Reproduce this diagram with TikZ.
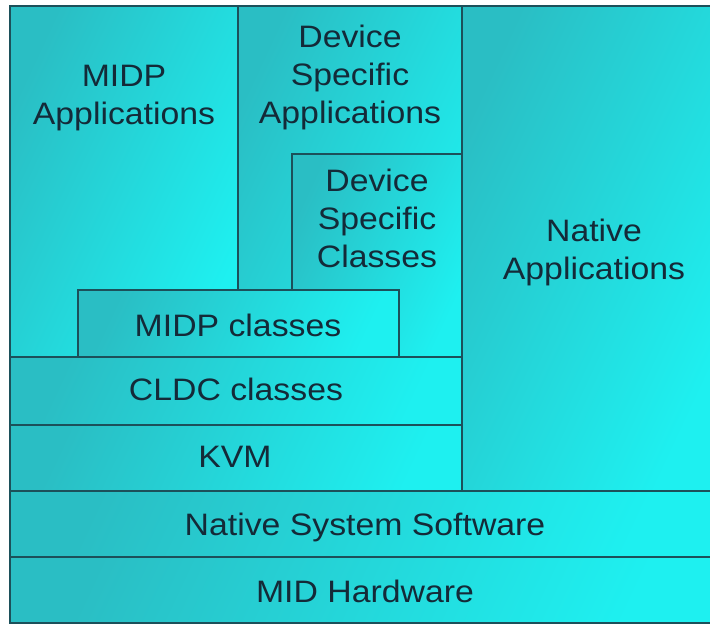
\documentclass[tikz,border=0pt]{standalone}
\usepackage{fontspec}
\setmainfont{Liberation Sans}[FakeStretch=1.09]
\definecolor{edge}{RGB}{28,80,90}
\definecolor{darkteal}{RGB}{42,190,196}
\definecolor{brightcyan}{RGB}{30,240,240}
\definecolor{ink}{RGB}{20,42,56}
\tikzset{
  layer/.style={draw=edge, line width=1.3bp, top color=darkteal, bottom color=brightcyan,
    shading angle=65, inner sep=0pt, outer sep=0pt, anchor=north west},
  lbl/.style={text=ink, align=center, font=\fontsize{31bp}{38bp}\selectfont, inner sep=0pt}
}
\begin{document}
\begin{tikzpicture}[x=1bp,y=-1bp]
\useasboundingbox (0,0) rectangle (710,624);
% boxes
\node[layer, minimum width=228bp, minimum height=351bp] (midpapp) at (10,6) {};
\node[layer, minimum width=224bp, minimum height=351bp] (dsapp) at (238,6) {};
\node[layer, minimum width=252bp, minimum height=485bp] (natapp) at (462,6) {};
\node[layer, minimum width=452bp, minimum height=68bp] (cldc) at (10,357) {};
\node[layer, minimum width=452bp, minimum height=66bp] (kvm) at (10,425) {};
\node[layer, minimum width=704bp, minimum height=66bp] (nss) at (10,491) {};
\node[layer, minimum width=704bp, minimum height=66bp] (hw) at (10,557) {};
\node[layer, minimum width=170bp, minimum height=203bp] (dsc) at (292,154) {};
\node[layer, minimum width=321bp, minimum height=67bp] (midpcl) at (78,290) {};
% labels
\node[lbl] (tmidpapp) at (124,98) {MIDP\\Applications};
\node[lbl] (tdsapp) at (350,77) {Device\\Specific\\Applications};
\node[lbl] (tdsc) at (377,218) {Device\\Specific\\Classes};
\node[lbl] (tnatapp) at (594,252) {Native\\Applications};
\node[lbl] (tmidpcl) at (238,325) {MIDP classes};
\node[lbl] (tcldc) at (236,389) {CLDC classes};
\node[lbl] (tkvm) at (235,457) {KVM};
\node[lbl] (tnss) at (365,527) {Native System Software};
\node[lbl] (thw) at (365,591) {MID Hardware};
\end{tikzpicture}
\end{document}
